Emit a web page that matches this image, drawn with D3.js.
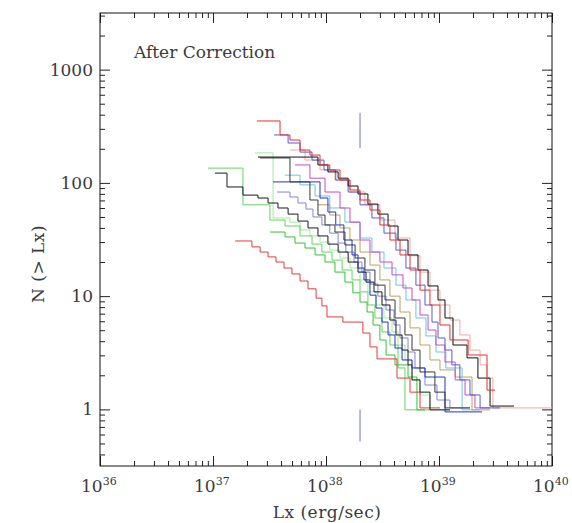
<!DOCTYPE html>
<html>
<head>
<meta charset="utf-8">
<script src="https://cdn.jsdelivr.net/npm/d3@7"></script>
<style>
  body { margin: 0; background: #fff; }
  text { font-family: "DejaVu Serif", serif; fill: #3a3a3a; }
</style>
</head>
<body>
<svg width="572" height="523"></svg>
<script>
// cumulative luminosity functions: [Lx (erg/s), N(>Lx)]
var redUpper = [[2.45e37,352],[3.92e37,265],[4.8e37,239],[5.89e37,195],[7.21e37,176],[8.85e37,144],[1.08e38,130],[1.33e38,106],[1.63e38,86.5],[2.0e38,70.6],[2.45e38,57.6],[3.0e38,42.5],[3.68e38,31.3],[4.52e38,23.1],[5.54e38,17],[6.79e38,11.3],[8.32e38,8.35],[1.02e39,5.56],[1.25e39,4.1],[1.81e39,3.02],[2.66e39,1.48],[3.13e39,1.48]];
var salmon = [[4.8e37,195],[6.52e37,159],[8.85e37,130],[1.2e38,106],[1.63e38,83],[2.21e38,64],[3.0e38,47],[4.08e38,32.6],[5.54e38,22.7],[6.79e38,16.3],[8.32e38,11.3],[1.02e39,8.35],[1.25e39,6.15],[1.53e39,4.54],[1.88e39,3.34],[2.31e39,2.47],[2.66e39,1.89],[3.0e39,1.03],[1e40,1.03]];
var blackUpper = [[2.5e37,169],[8.49e37,144],[1.04e38,125],[1.28e38,110],[1.57e38,93.8],[1.92e38,79.8],[2.35e38,65],[2.88e38,53],[3.54e38,41.6],[4.34e38,31.3],[5.32e38,23.1],[6.52e38,17],[8.0e38,12.3],[9.8e38,9.25],[1.13e39,6.41],[1.33e39,3.7],[1.77e39,2.85],[2.21e39,1.89],[2.83e39,1.07],[4.61e39,1.07]];
var blackSteps = [[2.61e37,166],[4.8e37,102],[7.21e37,70.6],[8.49e37,52],[9.8e37,42.5],[1.2e38,36.8],[1.47e38,28.3],[1.81e38,21.7],[2.21e38,17],[2.71e38,12.5],[3.33e38,9.25],[4.08e38,6.41],[5.0e38,4.54],[5.77e38,3.34],[6.79e38,2.14],[9.2e38,1.42],[1.13e39,1.03],[1.88e39,1.03]];
var blueSteps = [[3.4e37,102],[8.85e37,73.5],[1.04e38,55.3],[1.22e38,42.5],[1.44e38,31.3],[1.7e38,23.1],[1.92e38,17.7],[2.17e38,13.9],[2.45e38,10.2],[2.77e38,7.85],[3.13e38,5.9],[3.54e38,4.54],[4.08e38,3.48],[4.71e38,2.73],[5.77e38,2.32],[7.52e38,1.93],[1.13e39,0.95],[2.4e39,0.95]];
var blueUpper = [[3.47e37,265],[4.62e37,225],[5.89e37,187],[7.52e37,159],[9.6e37,130],[1.22e38,106],[1.57e38,83],[2.0e38,64],[2.55e38,49],[3.26e38,36],[4.16e38,25.5],[5.1e38,17.7],[6.25e38,12.5],[7.52e38,8.35],[8.67e38,5.9],[9.8e38,4.27],[1.13e39,3.34],[1.3e39,2.47],[1.53e39,1.82],[1.88e39,1.34],[2.31e39,1.03],[3.47e39,1.03]];
var slateBlue = [[3.68e37,83],[4.8e37,75],[5.65e37,66.4],[6.65e37,58.7],[7.67e37,50],[9.2e37,42.5],[1.08e38,36],[1.28e38,29.4],[1.5e38,24.5],[1.77e38,20],[2.08e38,16.3],[2.45e38,12.8],[2.88e38,10],[3.4e38,7.54],[4.0e38,5.56],[4.52e38,4.27],[5.32e38,3.21],[6.13e38,2.32],[7.52e38,1.64],[9.6e38,1.21],[1.25e39,1.03],[1.88e39,1.03]];
var magenta = [[5.32e37,144],[7.21e37,110],[9.8e37,83],[1.33e38,60],[1.63e38,45],[2.0e38,31.3],[2.45e38,24.5],[3.0e38,20],[3.84e38,15.4],[4.8e38,11.8],[5.77e38,9.25],[6.79e38,6.81],[8.0e38,5.02],[9.4e38,3.7],[1.13e39,2.62],[1.39e39,1.82],[1.7e39,1.34],[2.08e39,1.03],[2.83e39,1.03]];
var cyan = [[4.34e37,117],[5.89e37,96],[8.0e37,76.6],[1.08e38,60],[1.47e38,45],[2.0e38,32.6],[2.55e38,24.5],[3.26e38,17.7],[4.16e38,12.5],[5.1e38,9.25],[6.25e38,6.41],[7.67e38,4.45],[9.4e38,3.21],[1.15e39,2.32],[1.6e39,0.99],[2.31e39,0.99]];
var greenLeft = [[9.04e36,135],[1.84e37,64],[3.19e37,47],[4.34e37,41.6],[5.89e37,34],[7.52e37,28.8],[9.2e37,24.5],[1.13e38,20.8],[1.39e38,17],[1.7e38,13.9],[2.0e38,10.9],[2.35e38,8.35],[2.71e38,6.41],[3.13e38,4.82],[3.68e38,3.7],[4.34e38,2.32],[5.0e38,0.99],[8.32e38,0.99]];
var greenPale = [[2.35e37,184],[3.4e37,49],[4.8e37,45],[5.89e37,38.4],[7.21e37,34],[8.85e37,30],[1.08e38,25.5],[1.33e38,21.7],[1.63e38,17.7],[2.0e38,13.9],[2.35e38,10.9],[2.77e38,8.35],[3.26e38,6.41],[3.84e38,4.82],[4.34e38,3.7],[5.0e38,2.73],[5.77e38,1.82],[6.79e38,1.34],[8.32e38,0.99],[1.25e39,0.99]];
var greenLow = [[3.19e37,36.8],[4.34e37,33.3],[5.32e37,29.4],[6.52e37,26.6],[8.0e37,23.1],[9.8e37,20],[1.2e38,16.3],[1.47e38,13.3],[1.73e38,10.7],[2.0e38,8.87],[2.31e38,7.24],[2.61e38,5.56],[3.0e38,4.1],[3.4e38,3.02],[4.08e38,2.47],[5.32e38,1.93],[6.38e38,0.99],[7.52e38,0.99]];
var blackMid = [[1.04e37,122],[1.33e37,92],[1.84e37,78],[2.5e37,73.5],[3.07e37,66.4],[3.76e37,60],[4.62e37,53],[5.65e37,46],[6.93e37,40],[8.49e37,34],[1.04e38,28.8],[1.28e38,24.5],[1.57e38,20],[1.92e38,16.3],[2.26e38,13.3],[2.66e38,10.9],[3.13e38,8.35],[3.68e38,6.15],[4.16e38,4.54],[4.71e38,3.34],[5.32e38,2.47],[5.77e38,1.82],[6.79e38,1.42],[8.32e38,0.99],[1.25e39,0.99]];
var redLower = [[1.57e37,30.7],[2.21e37,27.2],[2.61e37,24.5],[3.07e37,22.2],[3.61e37,20],[4.25e37,17.7],[5.0e37,15.7],[5.89e37,13.6],[6.93e37,11.6],[8.17e37,9.6],[9.2e37,8.2],[1.02e38,6.55],[1.41e38,5.9],[2.12e38,4.72],[2.45e38,3.56],[2.83e38,2.79],[4.25e38,1.89],[5.54e38,1.42],[6.79e38,1.03],[1.02e39,1.03]];
var olive = [[8.49e37,64],[1.08e38,52],[1.33e38,40],[1.63e38,31.3],[2.0e38,24.5],[2.45e38,18.8],[3.0e38,13.9],[3.68e38,10],[4.52e38,7.24],[5.54e38,5.24],[6.79e38,3.7],[8.32e38,2.73],[1.02e39,2.23],[1.39e39,1.93],[1.96e39,0.99],[2.83e39,0.99]];

var curves = [greenPale, salmon, greenLeft, greenLow, olive, cyan, slateBlue, magenta, redLower, blackMid, blueSteps, blueUpper, blackSteps, blackUpper, redUpper];
var curveColors = ["#a3e8a3", "#f0a8a8", "#62d462", "#33c233", "#b8a458", "#6cc4dc", "#8585d6", "#c84ac8", "#e53a3c", "#1a1a1a", "#2233cc", "#5a5ad0", "#3a3a3a", "#111111", "#e4302c"];

// vertical marker at Lx = 2e38
var markerL = 2e38;
var markerSpans = [[203, 414], [0.52, 1.0]];

var xTickValues = [1e36, 1e37, 1e38, 1e39, 1e40];
var xTickExp = ["36", "37", "38", "39", "40"];
var yTickValues = [1, 10, 100, 1000];
var yTickLabels = ["1", "10", "100", "1000"];

var svg = d3.select("svg");
var pLeft = 100, pRight = 552, pTop = 13, pBottom = 466;

var x = d3.scaleLog().domain([1e36, 1e40]).range([pLeft, pRight]);
var y = d3.scaleLog().domain([Math.pow(10, -0.5), Math.pow(10, 3.5)]).range([pBottom, pTop]);

// minor ticks 2..9 per decade
var xMinor = [], yMinor = [];
for (var d = 36; d < 40; d++)
	for (var m = 2; m < 10; m++) xMinor.push(m * Math.pow(10, d));
for (var d = -1; d < 4; d++)
	for (var m = 2; m < 10; m++) {
		var v = m * Math.pow(10, d);
		if (v > y.domain()[0] && v < y.domain()[1]) yMinor.push(v);
	}

function tickAxis(axis, vals, size, tr) {
	svg.append("g")
		.attr("transform", tr)
		.call(axis.tickValues(vals).tickSize(size).tickFormat(""))
		.call(g => g.select(".domain").remove())
		.selectAll("line").attr("stroke", "#222");
}
tickAxis(d3.axisBottom(x), xMinor, -5, "translate(0," + pBottom + ")");
tickAxis(d3.axisBottom(x), xTickValues, -10, "translate(0," + pBottom + ")");
tickAxis(d3.axisTop(x), xMinor, -5, "translate(0," + pTop + ")");
tickAxis(d3.axisTop(x), xTickValues, -10, "translate(0," + pTop + ")");
tickAxis(d3.axisLeft(y), yMinor, -5, "translate(" + pLeft + ",0)");
tickAxis(d3.axisLeft(y), yTickValues, -10, "translate(" + pLeft + ",0)");
tickAxis(d3.axisRight(y), yMinor, -5, "translate(" + pRight + ",0)");
tickAxis(d3.axisRight(y), yTickValues, -10, "translate(" + pRight + ",0)");

svg.append("rect")
	.attr("x", pLeft).attr("y", pTop)
	.attr("width", pRight - pLeft).attr("height", pBottom - pTop)
	.attr("fill", "none").attr("stroke", "#111").attr("stroke-width", 1);

// step curves
var line = d3.line()
	.x(d => x(d[0]))
	.y(d => y(d[1]))
	.curve(d3.curveStepAfter);

svg.append("g").selectAll("path")
	.data(curves)
	.enter()
	.append("path")
	.attr("d", line)
	.attr("fill", "none")
	.attr("stroke", (d, i) => curveColors[i])
	.attr("stroke-width", 1);

svg.append("g").selectAll("line")
	.data(markerSpans)
	.enter()
	.append("line")
	.attr("x1", x(markerL)).attr("x2", x(markerL))
	.attr("y1", d => y(d[0])).attr("y2", d => y(d[1]))
	.attr("stroke", "#7474b8").attr("stroke-width", 1);

// tick labels
var xl = svg.append("g").selectAll("text")
	.data(xTickValues)
	.enter()
	.append("text")
	.attr("x", d => x(d) - 19)
	.attr("y", 492)
	.attr("font-size", 17);
xl.append("tspan").text("10");
xl.append("tspan").attr("dy", -7).attr("font-size", 11).text((d, i) => xTickExp[i]);

svg.append("g").selectAll("text")
	.data(yTickValues)
	.enter()
	.append("text")
	.attr("x", 93)
	.attr("y", d => y(d) + 6)
	.attr("text-anchor", "end")
	.attr("font-size", 17)
	.text((d, i) => yTickLabels[i]);

svg.append("text")
	.attr("x", 327).attr("y", 518)
	.attr("text-anchor", "middle")
	.attr("font-size", 17)
	.attr("letter-spacing", 0.5)
	.text("Lx (erg/sec)");

svg.append("text")
	.attr("transform", "translate(44,264) rotate(-90)")
	.attr("text-anchor", "middle")
	.attr("font-size", 17)
	.attr("letter-spacing", 0.5)
	.text("N (> Lx)");

svg.append("text")
	.attr("x", 134).attr("y", 58)
	.attr("font-size", 17)
	.text("After Correction");
</script>
</body>
</html>
